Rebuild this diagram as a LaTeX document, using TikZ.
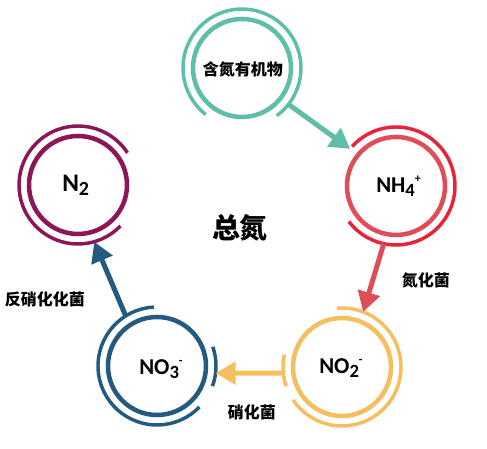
\documentclass[tikz,border=0pt]{standalone}
\usepackage{fontspec}
\setmainfont{Carlito}
\newfontfamily\cjk{Noto Sans CJK SC}
\usetikzlibrary{arrows.meta}
\definecolor{cT}{RGB}{94,190,167}
\definecolor{cAo}{RGB}{230,35,55}
\definecolor{cAi}{RGB}{222,78,88}
\definecolor{cB}{RGB}{245,190,95}
\definecolor{cC}{RGB}{37,90,128}
\definecolor{cD}{RGB}{140,22,88}
\tikzset{
  ring/.style={circle, minimum size=88.5pt, inner sep=0pt, outer sep=0pt},
  inring/.style={line width=3.4pt},
  outring/.style={line width=2.6pt},
  flow/.style={line width=3.75pt, -{Triangle[length=15pt,width=16.5pt]}},
  chem/.style={font=\fontsize{17}{17}\selectfont\bfseries, inner sep=0pt, anchor=base west},
  cn/.style={font=\cjk\bfseries\fontsize{12}{12}\selectfont, inner sep=0pt},
}
\newcommand\chsub[1]{\raisebox{-3pt}{\fontsize{14}{14}\selectfont #1}}
\newcommand\chsup[1]{\raisebox{7.5pt}{\fontsize{9}{9}\selectfont #1}}
\begin{document}
\begin{tikzpicture}[x=0.75pt,y=0.75pt]
\useasboundingbox (0,0) rectangle (487,449);
\node[ring] (T) at (242,381) {};
\node[ring] (A) at (396,263) {};
\node[ring] (B) at (342,82) {};
\node[ring] (C) at (157,83) {};
\node[ring] (D) at (78,264) {};
% top
\draw[cT,inring] (T) circle[radius=36.75pt];
\draw[cT,outring] (T.-54) arc[start angle=-54,end angle=232,radius=44.25pt];
% NH4
\draw[cAi,inring] (A) circle[radius=36.75pt];
\draw[cAo,outring] (A.-143) arc[start angle=-143,end angle=138,radius=44.25pt];
% NO2
\draw[cB,inring] (B) circle[radius=36.75pt];
\draw[cB,outring] (B.-146) arc[start angle=-146,end angle=95,radius=44.25pt];
\draw[cB,outring] (B.168) arc[start angle=168,end angle=199,radius=44.25pt];
% NO3
\draw[cC,inring] (C) circle[radius=36.75pt];
\draw[cC,outring] (C.93) arc[start angle=93,end angle=316,radius=44.25pt];
\draw[cC,outring] (C.-20) arc[start angle=-20,end angle=19,radius=44.25pt];
% N2
\draw[cD,inring] (D) circle[radius=36.75pt];
\draw[cD,outring] (D.33) arc[start angle=33,end angle=316,radius=44.25pt];
% arrows
\draw[cT,flow] (T.-38) -- (A.141);
\draw[cAi,flow] (A.-102) -- (B.69);
\draw[cB,flow] (B.186) -- (C.-7);
\draw[cC,flow] (C.122) -- (D.-74);
% labels
\node[cn] (t1) at (243,380) {含氮有机物};
\node[font=\cjk\bfseries\fontsize{21}{21}\selectfont, inner sep=0pt] (tot) at (240,221) {总氮};
\node[cn] (l1) at (426,169) {氮化菌};
\node[cn] (l2) at (45,150) {反硝化化菌};
\node[cn] (l3) at (252,37) {硝化菌};
\node[chem] (a) at (376,256) {NH\chsub{4}\chsup{+}};
\node[chem] (b) at (319,75) {NO\chsub{2}\chsup{-}};
\node[chem] (c) at (139,74) {NO\chsub{3}\chsup{-}};
\node[chem, font=\fontsize{19}{19}\selectfont\bfseries] (d) at (62,257) {N\raisebox{-3pt}{\fontsize{15}{15}\selectfont 2}};
\end{tikzpicture}
\end{document}
